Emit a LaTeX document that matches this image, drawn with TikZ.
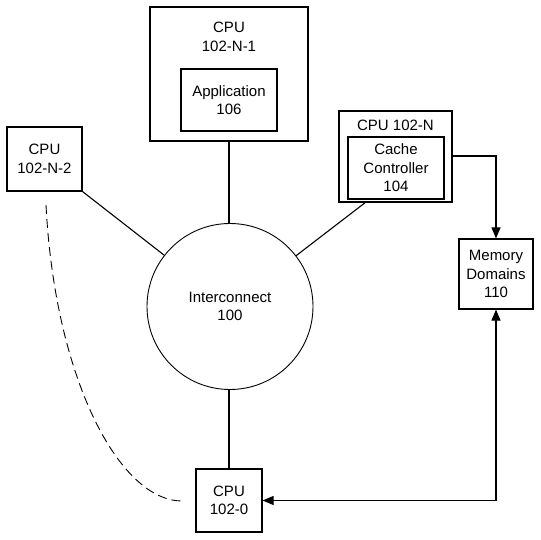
\documentclass[tikz,border=0pt]{standalone}
\usepackage{fontspec}
\setmainfont{Liberation Sans}
\usetikzlibrary{arrows.meta}
\begin{document}
\begin{tikzpicture}[x=1pt,y=-1pt,
  box/.style={draw,line width=1.2pt,inner sep=0pt,fill=white},
  lbl/.style={align=center,inner sep=0pt,font=\fontsize{15}{18.5}\selectfont},
  conn/.style={line width=1.1pt},
  arr/.style={line width=1.1pt,-{Triangle[length=11pt,width=9pt]}},
  darr/.style={line width=1.1pt,{Triangle[length=11pt,width=9pt]}-{Triangle[length=11pt,width=9pt]}},
  dsh/.style={line width=0.9pt,dash pattern=on 9pt off 5pt}]
\useasboundingbox (0,0) rectangle (541,540);
% boxes
\node[box,minimum width=158pt,minimum height=134pt] (cpuN1) at (229,74) {};
\node[lbl] (cpuN1l) at (229,37) {CPU\\102-N-1};
\node[box,lbl,minimum width=96pt,minimum height=62pt] (app) at (229,100) {Application\\106};
\node[box,lbl,minimum width=75pt,minimum height=64pt] (cpuN2) at (44.5,159) {CPU\\102-N-2};
\node[box,minimum width=113pt,minimum height=91pt] (cpuN) at (395.5,156.5) {};
\node[lbl] (cpuNl) at (395.5,125) {CPU 102-N};
\node[box,lbl,minimum width=96pt,minimum height=62pt] (cache) at (396,168) {Cache\\Controller\\104};
\node[box,lbl,minimum width=74pt,minimum height=70pt] (mem) at (496,274) {Memory\\Domains\\110};
\node[box,lbl,minimum width=66pt,minimum height=63pt] (cpu0) at (229,500.5) {CPU\\102-0};
\node[draw,circle,line width=0.9pt,minimum size=166pt,inner sep=0pt,lbl] (ic) at (230,306.5) {Interconnect\\100};
% helper coordinates
\coordinate (rt) at (366,202);
\coordinate (tap) at (0,156);
\coordinate (ds) at (46,205);
\coordinate (de) at (183,501);
% connectors
\draw[conn] (cpuN1.south) -- (cpuN1.south |- ic.north);
\draw[conn] (cpu0.north) -- (cpu0.north |- ic.south);
\draw[conn] (cpuN2.south east) -- (ic);
\draw[conn] (ic) -- (rt);
\draw[arr] (cpuN.east |- tap) -| (mem.north);
\draw[darr] (mem.south) |- (cpu0.east);
\draw[dsh] (ds) .. controls (55,380) and (120,502) .. (de);
\end{tikzpicture}
\end{document}
